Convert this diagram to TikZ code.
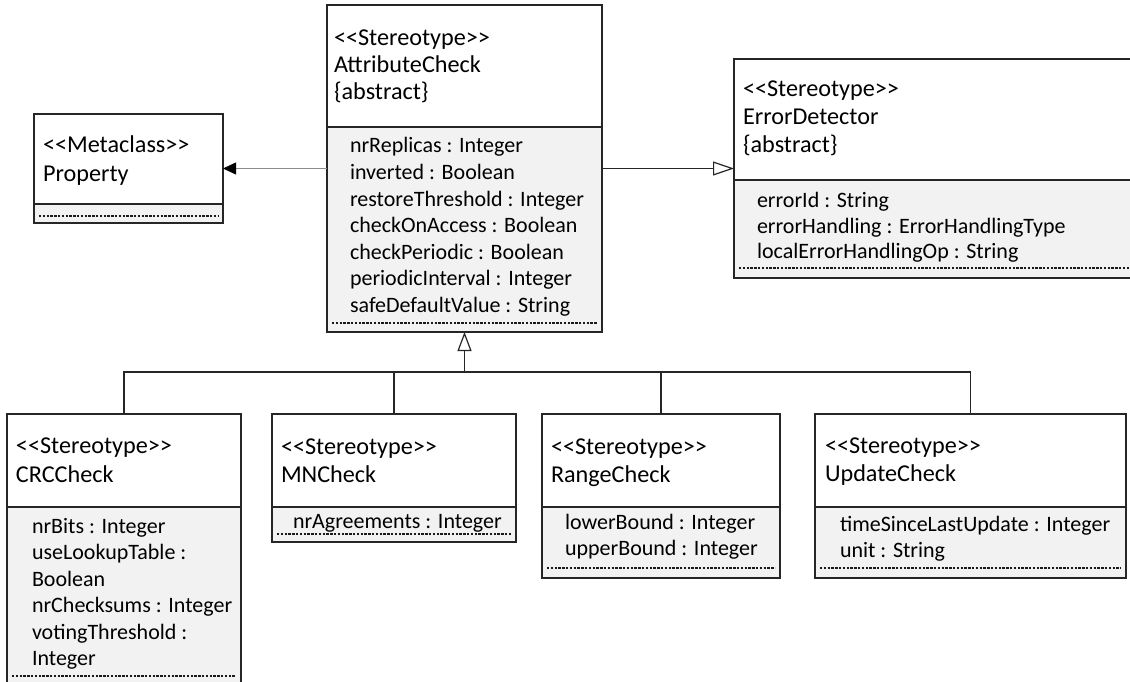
\documentclass[tikz,border=0pt]{standalone}
\usepackage{fontspec}
\setmainfont{Carlito}
\usetikzlibrary{arrows.meta}

\definecolor{attrgray}{HTML}{F2F2F2}
\definecolor{edgecol}{HTML}{262626}

% guillemet-free double angle brackets
\newcommand\dlt{<\kern0pt<}
\newcommand\dgt{>\kern0pt>}

\tikzset{
  x=1pt, y=-1pt,
  classframe/.style={draw=edgecol, line width=1.3pt, inner sep=0pt, outer sep=0pt, anchor=north west},
  divider/.style={draw=edgecol, line width=1.1pt},
  endmark/.style={draw=black!90, line width=1.1pt, dash pattern=on 2.4pt off 1.4pt},
  headtext/.style={anchor=base west, inner sep=0pt, outer sep=0pt, font=\fontsize{24.2}{29}\selectfont},
  attrtext/.style={anchor=base west, inner sep=0pt, outer sep=0pt, font=\fontsize{22}{26.5}\selectfont},
  assocline/.style={draw=black!45, line width=0.8pt, -{Triangle[length=13pt,width=12pt,color=black,fill=black]}},
  realline/.style={draw=edgecol, line width=1.2pt},
  genline/.style={draw=edgecol, line width=1.2pt},
  gentip/.style={-{Triangle[open,length=19pt,width=14pt]}},
  realtip/.style={-{Triangle[open,length=21pt,width=14pt]}},
}

% class box: name, left, top, right, divider y, bottom, dashed-line y
\newcommand\umlbox[7]{%
  \fill[attrgray] (#2,#5) rectangle (#4,#6);
  \draw[endmark] (#2+5,#7) -- (#4-5,#7);
  \draw[divider] (#2,#5) -- (#4,#5);
  \node[classframe, minimum width=#4pt-#2pt, minimum height=#6pt-#3pt] (#1) at (#2,#3) {};
}

\begin{document}
\begin{tikzpicture}
\useasboundingbox (0,0) rectangle (1130,682);
\fill[white] (0,0) rectangle (1130,682);

% ---- Property ----
\umlbox{prop}{34}{114}{223}{204}{223}{216}
\node[headtext] (prop-st) at (43,153) {\dlt Metaclass\dgt};
\node[headtext] (prop-nm) at (43,182) {Property};

% ---- AttributeCheck ----
\umlbox{attr}{327}{5}{602}{127}{332}{323}
\node[headtext] (attr-st) at (334,46) {\dlt Stereotype\dgt};
\node[headtext] (attr-nm) at (334,73) {AttributeCheck};
\node[headtext] (attr-ab) at (334,100) {\{abstract\}};
\node[attrtext] (attr-a1) at (350,153) {nrReplicas : Integer};
\node[attrtext] (attr-a2) at (350,179.5) {inverted : Boolean};
\node[attrtext] (attr-a3) at (350,206) {restoreThreshold : Integer};
\node[attrtext] (attr-a4) at (350,232.5) {checkOnAccess : Boolean};
\node[attrtext] (attr-a5) at (350,259) {checkPeriodic : Boolean};
\node[attrtext] (attr-a6) at (350,285.5) {periodicInterval : Integer};
\node[attrtext] (attr-a7) at (350,312) {safeDefaultValue : String};

% ---- ErrorDetector ----
\umlbox{err}{734}{59}{1145}{180}{278}{268}
\node[headtext] (err-st) at (743,97) {\dlt Stereotype\dgt};
\node[headtext] (err-nm) at (743,125) {ErrorDetector};
\node[headtext] (err-ab) at (743,153) {\{abstract\}};
\node[attrtext] (err-a1) at (757,207) {errorId : String};
\node[attrtext] (err-a2) at (757,233) {errorHandling : ErrorHandlingType};
\node[attrtext] (err-a3) at (757,258) {localErrorHandlingOp : String};

% ---- CRCCheck ----
\umlbox{crc}{7}{414}{241}{507}{700}{676}
\node[headtext] (crc-st) at (16,453) {\dlt Stereotype\dgt};
\node[headtext] (crc-nm) at (16,482) {CRCCheck};
\node[attrtext] (crc-a1) at (32,533) {nrBits : Integer};
\node[attrtext] (crc-a2) at (32,559) {useLookupTable :};
\node[attrtext] (crc-a3) at (32,586) {Boolean};
\node[attrtext] (crc-a4) at (32,612) {nrChecksums : Integer};
\node[attrtext] (crc-a5) at (32,639) {votingThreshold :};
\node[attrtext] (crc-a6) at (32,665) {Integer};

% ---- MNCheck ----
\umlbox{mn}{272}{414}{516}{507}{542}{534}
\node[headtext] (mn-st) at (281,454) {\dlt Stereotype\dgt};
\node[headtext] (mn-nm) at (281,482) {MNCheck};
\node[attrtext] (mn-a1) at (293,528) {nrAgreements : Integer};

% ---- RangeCheck ----
\umlbox{rng}{542}{414}{780}{507}{578}{568}
\node[headtext] (rng-st) at (551,454) {\dlt Stereotype\dgt};
\node[headtext] (rng-nm) at (551,482) {RangeCheck};
\node[attrtext] (rng-a1) at (565,529) {lowerBound : Integer};
\node[attrtext] (rng-a2) at (565,555) {upperBound : Integer};

% ---- UpdateCheck ----
\umlbox{upd}{815}{414}{1126}{507}{578}{568}
\node[headtext] (upd-st) at (825,453) {\dlt Stereotype\dgt};
\node[headtext] (upd-nm) at (825,481) {UpdateCheck};
\node[attrtext] (upd-a1) at (840,531) {timeSinceLastUpdate : Integer};
\node[attrtext] (upd-a2) at (840,557) {unit : String};

% ---- connectors ----
\draw[assocline] (attr.west) -- (prop.east);
\draw[realline, realtip] (attr.east) -- (err.west);

\coordinate (bus) at (attr.south |- 0,372);
\draw[genline, gentip] (bus) -- (attr.south);
\draw[genline] (crc.north) |- (bus);
\draw[genline] (upd.north) |- (bus);
\draw[genline] (mn.north) -- (mn.north |- bus);
\draw[genline] (rng.north) -- (rng.north |- bus);
\end{tikzpicture}
\end{document}
